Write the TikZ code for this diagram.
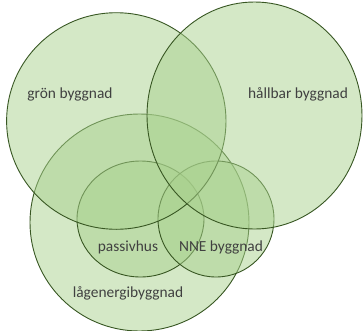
\documentclass[tikz,border=0pt]{standalone}
\usepackage{fontspec}
\setmainfont{Carlito}
\definecolor{vfill}{HTML}{A9D18E}
\definecolor{vline}{HTML}{385723}
\definecolor{vtext}{HTML}{404040}
\tikzset{
  venn/.style={draw=vline, line width=0.9bp, fill=vfill, fill opacity=0.5},
  lbl/.style={text=vtext, font=\fontsize{15.4bp}{18bp}\selectfont, inner sep=0pt}
}
\begin{document}
\begin{tikzpicture}[x=1bp,y=-1bp]
\useasboundingbox (0,0) rectangle (363,331);
\draw[venn] (139.5,222.5) ellipse [x radius=109.5, y radius=108.5];
\draw[venn] (140.5,219) ellipse [x radius=63.5, y radius=58];
\draw[venn] (216,219) ellipse [x radius=58, y radius=58];
\draw[venn] (116.3,121) ellipse [x radius=109.7, y radius=108.3];
\draw[venn] (254.5,115.5) ellipse [x radius=107.5, y radius=113.5];
\node[lbl] (gron) at (70,94) {grön byggnad};
\node[lbl] (hall) at (298,94) {hållbar byggnad};
\node[lbl] (pass) at (128,247) {passivhus};
\node[lbl] (nne) at (221,247) {NNE byggnad};
\node[lbl] (lag) at (128,293) {lågenergibyggnad};
\end{tikzpicture}
\end{document}
